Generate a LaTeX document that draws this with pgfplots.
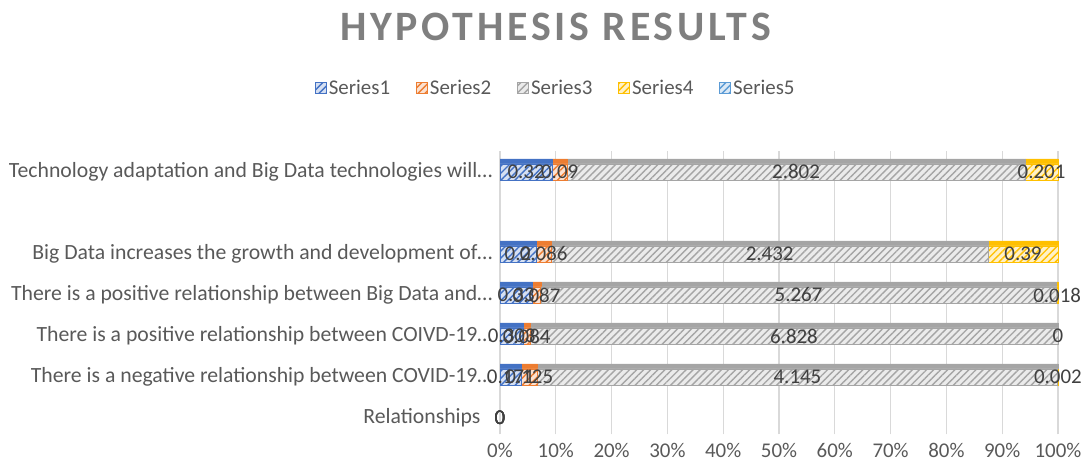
\documentclass[border=0pt]{standalone}
\usepackage{fontspec}
\setmainfont{Carlito}
\newfontfamily\titlefont[LetterSpace=9]{Carlito}
\usepackage{pgfplots}
\pgfplotsset{compat=1.18}
\usepackage{pgfplotstable}
\usetikzlibrary{patterns.meta}
\definecolor{sa}{HTML}{4472C4}
\definecolor{sb}{HTML}{ED7D31}
\definecolor{sc}{HTML}{A5A5A5}
\definecolor{sd}{HTML}{FFC000}
\definecolor{se}{HTML}{5B9BD5}
\definecolor{txt}{HTML}{595959}
\definecolor{lbl}{HTML}{404040}
\definecolor{gridc}{HTML}{D9D9D9}
\definecolor{ttl}{HTML}{7F7F7F}

\pgfplotstableread{
y pct raw ctr
6 9.376 0.32 4.688
4 6.435 0.2 3.218
3 5.787 0.33 2.894
2 4.200 0.303 2.100
1 3.849 0.171 1.925
0 0 0 0
}\sA
\pgfplotstableread{
y pct raw ctr
6 2.637 0.09 10.695
4 2.767 0.086 7.819
3 1.526 0.087 6.550
2 1.164 0.084 4.782
1 2.813 0.125 5.256
0 0 0 0
}\sB
\pgfplotstableread{
y pct raw ctr
6 82.098 2.802 53.062
4 78.250 2.432 48.327
3 92.371 5.267 53.499
2 94.636 6.828 52.682
1 93.293 4.145 53.309
0 0 0 0
}\sC
\pgfplotstableread{
y pct raw ctr
6 5.889 0.201 97.056
4 12.548 0.39 93.726
3 0.316 0.018 99.842
2 0 0 100
1 0.045 0.002 99.978
0 0 0 0
}\sD

\tikzset{
  hatch/.style={fill=#1!22, draw=#1, line width=0.8bp,
    postaction={pattern={Lines[angle=45,distance=5bp,line width=1.4bp]}, pattern color=#1}},
}

\begin{document}
\begin{tikzpicture}
\useasboundingbox (0,0) rectangle (1084bp,476bp);
\pgfplotsset{base/.style={at={(500bp,41.6bp)}, anchor=south west, scale only axis,
  width=558bp, height=283bp, xmin=0, xmax=100, ymin=-0.4, ymax=6.5, clip=false}}

% back: grid and top faces
\begin{axis}[base, xbar stacked, bar width=5bp, bar shift=10.5bp,
  axis line style={draw=none}, major tick length=0,
  xtick={0,10,...,100}, xticklabels={}, ytick=\empty,
  xmajorgrids, grid style={draw=gridc, line width=1.3bp}]
\addplot[fill=sa, draw=sa] table[x=pct,y=y]{\sA};
\addplot[fill=sb, draw=sb] table[x=pct,y=y]{\sB};
\addplot[fill=sc, draw=sc] table[x=pct,y=y]{\sC};
\addplot[fill=sd, draw=sd] table[x=pct,y=y]{\sD};
\end{axis}

% front faces, tick labels, legend
\begin{axis}[base, xbar stacked, bar width=16bp,
  axis line style={draw=none}, major tick length=0,
  xtick={0,10,...,100},
  xticklabels={0\%,10\%,20\%,30\%,40\%,50\%,60\%,70\%,80\%,90\%,100\%},
  xticklabel style={font=\fontsize{21}{24}\selectfont, text=txt, yshift=-5bp},
  ytick={0,1,2,3,4,6},
  yticklabels={Relationships\kern12bp,
    There is a negative relationship between COVID-19…,
    There is a positive relationship between COIVD-19…,
    There is a positive relationship between Big Data and…,
    Big Data increases the growth and development of…,
    Technology adaptation and Big Data technologies will…},
  yticklabel style={font=\fontsize{21.8}{25}\selectfont, text=txt, xshift=-4bp},
  legend columns=5,
  legend image code/.code={\draw[#1] (-4bp,-5.5bp) rectangle (7bp,5.5bp);},
  legend style={at={(0.1,1.224)}, anchor=center, draw=none, fill=none,
    font=\fontsize{21}{24}\selectfont, text=txt,
    /tikz/every even column/.append style={column sep=24bp}}]
\addplot[hatch=sa] table[x=pct,y=y]{\sA};
\addlegendentry{Series1}
\addplot[hatch=sb] table[x=pct,y=y]{\sB};
\addlegendentry{Series2}
\addplot[hatch=sc] table[x=pct,y=y]{\sC};
\addlegendentry{Series3}
\addplot[hatch=sd] table[x=pct,y=y]{\sD};
\addlegendentry{Series4}
\addlegendimage{hatch=se}
\addlegendentry{Series5}
\end{axis}

% data labels
\begin{axis}[base, hide axis]
\pgfplotsset{lab/.style={only marks, mark=none, nodes near coords,
  point meta=explicit symbolic, nodes near coords align=center,
  nodes near coords style={anchor=center, font=\fontsize{21}{24}\selectfont, text=lbl, inner sep=0pt}}}
\addplot[lab] table[x=ctr,y=y,meta=raw]{\sA};
\addplot[lab] table[x=ctr,y=y,meta=raw]{\sB};
\addplot[lab] table[x=ctr,y=y,meta=raw]{\sC};
\addplot[lab] table[x=ctr,y=y,meta=raw]{\sD};
\end{axis}

\node[text=ttl, font=\titlefont\bfseries\fontsize{42}{50}\selectfont] at (555.5bp,449bp) {HYPOTHESIS RESULTS};
\end{tikzpicture}
\end{document}
